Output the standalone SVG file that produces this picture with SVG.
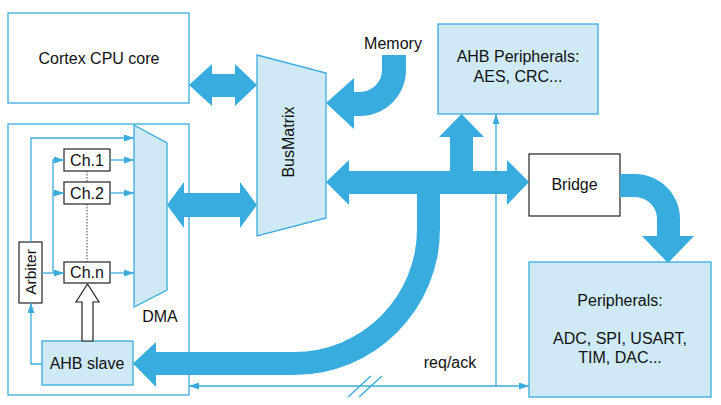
<svg xmlns="http://www.w3.org/2000/svg" width="721" height="405" viewBox="0 0 721 405">
<defs>
<style>
.t{font-family:"Liberation Sans",Arial,sans-serif;font-size:16px;fill:#111;text-anchor:middle}
.s{font-size:15.5px}
.bb{fill:#fff;stroke:#3AABDC;stroke-width:1.3}
.lb{fill:#CFE9F6;stroke:#3AABDC;stroke-width:1.3}
.kb{fill:#fff;stroke:#222;stroke-width:1.2}
.bus{fill:#38ACDE;stroke:none}
.ln{fill:none;stroke:#3AABDC;stroke-width:1.3}
</style>
<marker id="ah" viewBox="0 0 10 7" refX="10" refY="3.5" markerWidth="10" markerHeight="7" markerUnits="userSpaceOnUse" orient="auto">
<path d="M0,0 L10,3.5 L0,7 z" fill="#3AABDC"/>
</marker>
</defs>

<g id="cortex">
<rect class="bb" x="8" y="13" width="181" height="90"/>
<text class="t" x="99" y="63.5">Cortex CPU core</text>
</g>

<g id="dma">
<rect class="bb" x="8" y="124" width="181" height="271"/>
<polygon class="lb" points="134,125 167,143 167,290 134,307"/>
<text class="t" x="160" y="322">DMA</text>
</g>

<g id="ch1">
<rect class="kb" x="64" y="149" width="46" height="22"/>
<text class="t" x="87" y="166">Ch.1</text>
</g>
<g id="ch2">
<rect class="kb" x="64" y="182" width="46" height="22"/>
<text class="t" x="87" y="199">Ch.2</text>
</g>
<g id="chn">
<rect class="kb" x="64" y="262" width="46" height="21"/>
<text class="t" x="87" y="278">Ch.n</text>
</g>
<g id="arbiter">
<rect class="kb" x="19" y="242" width="23" height="61"/>
<text class="t s" transform="translate(36,272) rotate(-90)">Arbiter</text>
</g>
<g id="ahbslave">
<rect class="lb" x="42" y="341" width="91" height="44"/>
<text class="t" x="87" y="369">AHB slave</text>
</g>

<g id="busmatrix">
<polygon class="lb" points="257,55 326,73 326,218 257,236"/>
<text class="t" transform="translate(294,142) rotate(-90)">BusMatrix</text>
</g>

<g id="memory">
<text class="t" x="393" y="49">Memory</text>
</g>

<g id="ahbperiph">
<rect class="lb" x="438" y="24" width="160" height="90"/>
<text class="t" x="518" y="62">AHB Peripherals:</text>
<text class="t" x="518" y="82">AES, CRC...</text>
</g>

<g id="bridge">
<rect class="kb" x="529" y="154" width="91" height="62"/>
<text class="t" x="574.5" y="190">Bridge</text>
</g>

<g id="peripherals">
<rect class="lb" x="529" y="262" width="182" height="135"/>
<text class="t" x="620" y="306">Peripherals:</text>
<text class="t" x="620" y="344">ADC, SPI, USART,</text>
<text class="t" x="620" y="363">TIM, DAC...</text>
</g>

<g id="connectors">
<path class="bus" d="M189,85 L212,64 L212,74 L235,74 L235,64 L257,85 L235,106 L235,97 L212,97 L212,106 Z"/>
<path class="bus" d="M167,205 L184,182 L184,193 L240,193 L240,182 L257,205 L240,228 L240,217 L184,217 L184,228 Z"/>
<path class="bus" d="M382,55 L406,55 L406,70 A46,46 0 0 1 360,116 L354,116 L354,129 L326,103 L354,78 L354,92 L360,92 A22,22 0 0 0 382,70 Z"/>
<path class="bus" d="M326,182 L349,160 L349,171 L507,171 L507,160 L529,182 L507,205 L507,194 L349,194 L349,205 Z"/>
<path class="bus" d="M450,172 L450,137 L439,137 L461.5,114 L484,137 L473,137 L473,172 Z"/>
<path class="bus" d="M417,190 L417,229 A123,123 0 0 1 294,352 L156,352 L156,342 L133,363.5 L156,387 L156,375 L294,375 A146,146 0 0 0 440,229 L440,190 Z"/>
<path class="bus" d="M620,174 L635,174 A45,45 0 0 1 680,219 L680,236 L694,236 L668,263 L642,236 L657,236 L657,219 A22,22 0 0 0 635,197 L620,197 Z"/>
<path d="M82,341 L82,302 L76,302 L87.5,284 L99,302 L93,302 L93,341 Z" fill="#fff" stroke="#222" stroke-width="1.2"/>
<path d="M87,171 L87,182 M87,204 L87,262" fill="none" stroke="#444" stroke-width="1" stroke-dasharray="1.5,1.5"/>
<path class="ln" d="M31,242 L31,138 L134,138" marker-end="url(#ah)"/>
<path class="ln" d="M42,273 L64,273" marker-end="url(#ah)"/>
<path class="ln" d="M53,273 L53,160 L64,160" marker-end="url(#ah)"/>
<path class="ln" d="M53,193 L64,193" marker-end="url(#ah)"/>
<path class="ln" d="M110,160 L134,160" marker-end="url(#ah)"/>
<path class="ln" d="M110,193 L134,193" marker-end="url(#ah)"/>
<path class="ln" d="M110,273 L134,273" marker-end="url(#ah)"/>
<path class="ln" d="M42,364 L31,364 L31,303" marker-end="url(#ah)"/>
<path class="ln" d="M360,386 L189,386" marker-end="url(#ah)"/>
<path class="ln" d="M360,386 L529,386" marker-end="url(#ah)"/>
<path class="ln" d="M496,386 L496,114" marker-end="url(#ah)"/>
<path class="ln" d="M348,397 L371,376 M359,397 L382,376"/>
<text class="t" x="450" y="368">req/ack</text>
</g>
</svg>
